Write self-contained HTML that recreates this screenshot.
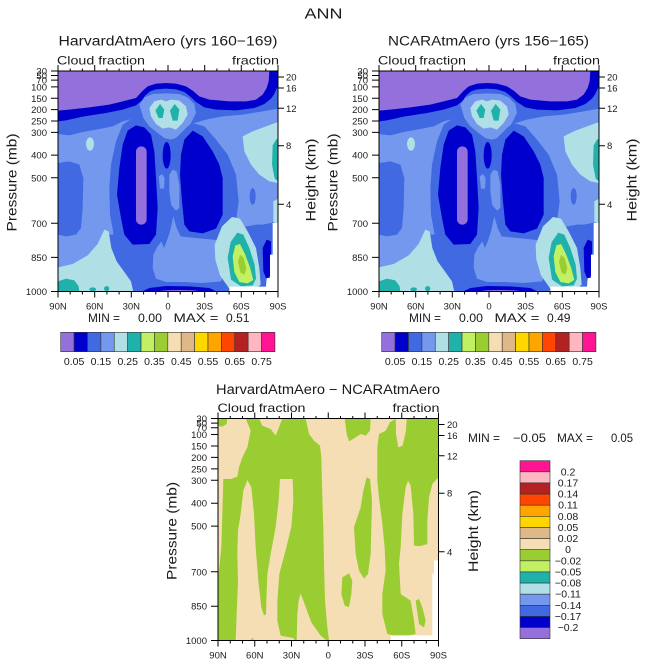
<!DOCTYPE html>
<html><head><meta charset="utf-8"><style>
html,body{margin:0;padding:0;background:#fff;}
svg{display:block;}
text{font-family:"Liberation Sans",sans-serif;fill:#1a1a1a;}
</style></head><body>
<svg width="647" height="664" viewBox="0 0 647 664" xmlns="http://www.w3.org/2000/svg">
<defs>
<clipPath id="ct"><rect x="6" y="9" width="660" height="662"/></clipPath>
<clipPath id="cb"><rect x="12" y="13.5" width="661.5" height="666"/></clipPath>
<g id="tp">
<g clip-path="url(#ct)" transform="translate(56,68) scale(0.333333)">
<rect x="0" y="0" width="680" height="680" fill="#4169E1"/>
<polygon fill="#7398EE" points="6,198 40,202 80,192 130,183 170,175 200,160 240,150 300,180 350,200 400,170 450,155 500,145 560,140 620,130 666,122 666,672 6,672"/>
<polygon fill="#4169E1" points="200,170 230,150 260,150 285,170 305,195 330,212 355,212 380,185 410,165 445,175 480,215 515,260 540,320 548,400 540,460 520,500 480,515 400,505 372,500 340,510 310,540 280,550 240,555 200,545 175,510 162,440 160,360 165,290 180,220"/>
<polygon fill="#4169E1" points="6,285 40,280 70,290 82,330 80,420 75,480 60,500 30,505 6,500"/>
<polygon fill="#4169E1" points="160,500 545,480 600,470 620,470 645,465 666,460 666,672 160,672"/>
<ellipse fill="#4169E1" cx="590" cy="385" rx="9" ry="25"/>
<polygon fill="#7398EE" points="290,600 292,560 302,540 316,520 324,540 332,520 342,490 352,445 362,480 374,505 400,508 440,512 480,516 505,522 515,545 512,585 505,620 495,640 440,645 380,642 330,642 300,632"/>
<polygon fill="#7398EE" points="340,320 350,305 362,310 370,350 370,420 360,428 346,412 340,370"/>
<polygon fill="#7398EE" points="308,325 318,318 326,330 324,362 312,362"/>
<polygon fill="#7398EE" points="250,110 265,88 290,78 330,76 370,78 395,88 415,108 420,135 405,165 380,190 360,210 345,215 325,210 305,195 280,175 262,150"/>
<polygon fill="#B0E0E6" points="280,120 295,100 315,95 330,100 345,95 370,98 390,115 395,140 380,165 360,185 340,178 320,182 300,168 285,145"/>
<ellipse fill="#B0E0E6" cx="102" cy="228" rx="12" ry="20"/>
<polygon fill="#B0E0E6" points="560,205 590,190 630,175 666,162 666,345 640,340 610,320 585,290 565,250"/>
<polygon fill="#B0E0E6" points="6,598 50,588 95,562 125,528 145,485 158,490 166,540 182,580 205,612 225,640 232,672 6,672"/>
<polygon fill="#B0E0E6" points="476,530 498,475 528,447 552,452 576,492 600,540 610,600 614,650 600,662 520,662 492,622 478,575"/>
<polygon fill="#B0E0E6" points="652,400 666,392 666,470 652,462"/>
<polygon fill="#20B2AA" points="298,128 312,108 325,125 320,150 308,150"/>
<polygon fill="#20B2AA" points="342,128 356,108 370,125 365,158 350,158"/>
<polygon fill="#20B2AA" points="650,232 660,215 666,212 666,340 656,332 648,290"/>
<polygon fill="#20B2AA" points="6,640 30,632 55,637 68,655 70,672 6,672"/>
<ellipse fill="#20B2AA" cx="110" cy="664" rx="10" ry="6"/>
<ellipse fill="#20B2AA" cx="152" cy="662" rx="8" ry="8"/>
<polygon fill="#20B2AA" points="515,570 524,522 544,494 562,500 580,540 596,590 600,632 590,652 555,655 525,635"/>
<polygon fill="#C1F062" points="530,565 538,532 552,528 566,556 582,598 592,636 575,646 550,642 535,612"/>
<polygon fill="#9ACD32" points="546,582 552,560 563,570 571,600 566,620 554,615"/>
<polygon fill="#0000CD" points="6,9 666,9 666,55 662,62 655,78 645,92 625,108 595,120 540,127 480,125 445,118 420,102 402,85 385,72 360,64 330,62 300,64 282,70 268,82 258,97 240,112 200,125 150,135 80,146 30,157 6,160"/>
<polygon fill="#0000CD" points="240,172 215,188 200,230 190,300 183,380 195,450 205,500 230,530 280,528 300,500 305,420 300,330 295,250 285,200 265,178"/>
<polygon fill="#0000CD" points="410,188 385,215 375,260 372,320 378,400 385,470 400,490 440,496 480,482 500,440 500,330 490,290 470,250 440,205"/>
<ellipse fill="#0000CD" cx="332" cy="262" rx="12" ry="40"/>
<polygon fill="#0000CD" points="255,672 280,660 330,654 400,655 460,660 485,672"/>
<polygon fill="#0000CD" points="620,540 632,515 645,520 645,620 632,635 622,610"/>
<polygon fill="#9370DB" points="6,9 640,9 638,40 632,60 620,80 600,95 570,100 520,100 460,95 430,85 410,68 390,55 360,47 330,45 300,47 275,55 258,70 240,90 200,100 160,110 100,118 40,125 6,128"/>
<rect fill="#9370DB" x="240" y="235" width="32" height="235" rx="16"/>
<ellipse fill="#9370DB" cx="370" cy="670" rx="60" ry="4"/>
<polygon fill="#fff" points="520,656 630,656 632,630 642,630 642,560 650,560 650,465 666,465 666,672 520,672"/>
</g>
<rect x="58" y="71" width="220" height="220.5" fill="none" stroke="#000" stroke-width="1"/>
<path stroke="#000" stroke-width="1" fill="none" d="M58 71V65M70.2 71V68.5M82.4 71V68.5M94.7 71V65M106.9 71V68.5M119.1 71V68.5M131.3 71V65M143.6 71V68.5M155.8 71V68.5M168 71V65M180.2 71V68.5M192.4 71V68.5M204.7 71V65M216.9 71V68.5M229.1 71V68.5M241.3 71V65M253.6 71V68.5M265.8 71V68.5M278 71V65
M58 291.5V297.5M70.2 291.5V294.5M82.4 291.5V294.5M94.7 291.5V297.5M106.9 291.5V294.5M119.1 291.5V294.5M131.3 291.5V297.5M143.6 291.5V294.5M155.8 291.5V294.5M168 291.5V297.5M180.2 291.5V294.5M192.4 291.5V294.5M204.7 291.5V297.5M216.9 291.5V294.5M229.1 291.5V294.5M241.3 291.5V297.5M253.6 291.5V294.5M265.8 291.5V294.5M278 291.5V297.5
M51 71H58M51 75.5H58M51 80.1H58M51 86.9H58M51 98.3H58M51 109.6H58M51 121H58M51 132.4H58M51 155.1H58M51 177.8H58M51 223.3H58M51 257.4H58M51 291.5H58
M278 77H284M278 88H284M278 108.3H284M278 145.7H284M278 204.3H284"/>
</g>
<g id="cbh" stroke="#333" stroke-width="0.6">
<rect x="60.7" y="332.3" width="13.39" height="19.4" fill="#9370DB"/>
<rect x="74.09" y="332.3" width="13.39" height="19.4" fill="#0000CD"/>
<rect x="87.48" y="332.3" width="13.39" height="19.4" fill="#4169E1"/>
<rect x="100.87" y="332.3" width="13.39" height="19.4" fill="#7398EE"/>
<rect x="114.26" y="332.3" width="13.39" height="19.4" fill="#B0E0E6"/>
<rect x="127.65" y="332.3" width="13.39" height="19.4" fill="#20B2AA"/>
<rect x="141.04" y="332.3" width="13.39" height="19.4" fill="#C1F062"/>
<rect x="154.43" y="332.3" width="13.39" height="19.4" fill="#9ACD32"/>
<rect x="167.82" y="332.3" width="13.39" height="19.4" fill="#F5DEB3"/>
<rect x="181.21" y="332.3" width="13.39" height="19.4" fill="#DEB887"/>
<rect x="194.6" y="332.3" width="13.39" height="19.4" fill="#FFD700"/>
<rect x="207.99" y="332.3" width="13.39" height="19.4" fill="#FFA500"/>
<rect x="221.38" y="332.3" width="13.39" height="19.4" fill="#FF4500"/>
<rect x="234.77" y="332.3" width="13.39" height="19.4" fill="#B22222"/>
<rect x="248.16" y="332.3" width="13.39" height="19.4" fill="#FFB6C1"/>
<rect x="261.55" y="332.3" width="13.39" height="19.4" fill="#FF1493"/>
</g>
</defs>

<use href="#tp"/>
<use href="#tp" x="321"/>
<use href="#cbh"/>
<use href="#cbh" x="321"/>

<!-- Title -->
<text x="323.5" y="18.5" font-size="15" text-anchor="middle" textLength="38" lengthAdjust="spacingAndGlyphs">ANN</text>

<!-- Left panel texts -->
<text x="168" y="45.5" font-size="13.5" text-anchor="middle" textLength="219" lengthAdjust="spacingAndGlyphs">HarvardAtmAero (yrs 160−169)</text>
<text x="57" y="64.3" font-size="12" textLength="88" lengthAdjust="spacingAndGlyphs">Cloud fraction</text>
<text x="279" y="64.3" font-size="12" text-anchor="end" textLength="47" lengthAdjust="spacingAndGlyphs">fraction</text>
<g font-size="9.5" text-anchor="end">
<text x="47" y="74.5">30</text><text x="47" y="79">50</text><text x="47" y="83.6">70</text>
<text x="47" y="90.4">100</text><text x="47" y="101.8">150</text><text x="47" y="113.1">200</text>
<text x="47" y="124.5">250</text><text x="47" y="135.9">300</text><text x="47" y="158.6">400</text>
<text x="47" y="181.3">500</text><text x="47" y="226.8">700</text><text x="47" y="260.9">850</text>
<text x="47" y="295">1000</text>
</g>
<g font-size="9.5">
<text x="286" y="80.5">20</text><text x="286" y="91.5">16</text><text x="286" y="111.8">12</text>
<text x="286" y="149.2">8</text><text x="286" y="207.8">4</text>
</g>
<g font-size="9.5" text-anchor="middle">
<text x="58" y="309.5">90N</text><text x="94.7" y="309.5">60N</text><text x="131.3" y="309.5">30N</text>
<text x="168" y="309.5">0</text><text x="204.7" y="309.5">30S</text><text x="241.3" y="309.5">60S</text>
<text x="278" y="309.5">90S</text>
</g>
<text transform="translate(16.5,182.5) rotate(-90)" font-size="14" text-anchor="middle" textLength="98" lengthAdjust="spacingAndGlyphs">Pressure (mb)</text>
<text transform="translate(315.5,180) rotate(-90)" font-size="14" text-anchor="middle" textLength="83" lengthAdjust="spacingAndGlyphs">Height (km)</text>
<g font-size="12">
<text x="88" y="322" textLength="32" lengthAdjust="spacingAndGlyphs">MIN =</text>
<text x="138" y="322" textLength="24" lengthAdjust="spacingAndGlyphs">0.00</text>
<text x="173.5" y="322" textLength="45" lengthAdjust="spacingAndGlyphs">MAX =</text>
<text x="226" y="322" textLength="23.5" lengthAdjust="spacingAndGlyphs">0.51</text>
</g>
<g font-size="10.5" text-anchor="middle">
<text x="74.1" y="365">0.05</text><text x="100.9" y="365">0.15</text><text x="127.7" y="365">0.25</text>
<text x="154.4" y="365">0.35</text><text x="181.2" y="365">0.45</text><text x="208" y="365">0.55</text>
<text x="234.8" y="365">0.65</text><text x="261.6" y="365">0.75</text>
</g>

<!-- Right panel texts -->
<text x="488.5" y="45.5" font-size="13.5" text-anchor="middle" textLength="201" lengthAdjust="spacingAndGlyphs">NCARAtmAero (yrs 156−165)</text>
<text x="378" y="64.3" font-size="12" textLength="88" lengthAdjust="spacingAndGlyphs">Cloud fraction</text>
<text x="600" y="64.3" font-size="12" text-anchor="end" textLength="47" lengthAdjust="spacingAndGlyphs">fraction</text>
<g font-size="9.5" text-anchor="end">
<text x="368" y="74.5">30</text><text x="368" y="79">50</text><text x="368" y="83.6">70</text>
<text x="368" y="90.4">100</text><text x="368" y="101.8">150</text><text x="368" y="113.1">200</text>
<text x="368" y="124.5">250</text><text x="368" y="135.9">300</text><text x="368" y="158.6">400</text>
<text x="368" y="181.3">500</text><text x="368" y="226.8">700</text><text x="368" y="260.9">850</text>
<text x="368" y="295">1000</text>
</g>
<g font-size="9.5">
<text x="607" y="80.5">20</text><text x="607" y="91.5">16</text><text x="607" y="111.8">12</text>
<text x="607" y="149.2">8</text><text x="607" y="207.8">4</text>
</g>
<g font-size="9.5" text-anchor="middle">
<text x="379" y="309.5">90N</text><text x="415.7" y="309.5">60N</text><text x="452.3" y="309.5">30N</text>
<text x="489" y="309.5">0</text><text x="525.7" y="309.5">30S</text><text x="562.3" y="309.5">60S</text>
<text x="599" y="309.5">90S</text>
</g>
<text transform="translate(337.5,182.5) rotate(-90)" font-size="14" text-anchor="middle" textLength="98" lengthAdjust="spacingAndGlyphs">Pressure (mb)</text>
<text transform="translate(636.5,180) rotate(-90)" font-size="14" text-anchor="middle" textLength="83" lengthAdjust="spacingAndGlyphs">Height (km)</text>
<g font-size="12">
<text x="409" y="322" textLength="32" lengthAdjust="spacingAndGlyphs">MIN =</text>
<text x="459" y="322" textLength="24" lengthAdjust="spacingAndGlyphs">0.00</text>
<text x="494.5" y="322" textLength="45" lengthAdjust="spacingAndGlyphs">MAX =</text>
<text x="547" y="322" textLength="23.5" lengthAdjust="spacingAndGlyphs">0.49</text>
</g>
<g font-size="10.5" text-anchor="middle">
<text x="395.1" y="365">0.05</text><text x="421.9" y="365">0.15</text><text x="448.7" y="365">0.25</text>
<text x="475.4" y="365">0.35</text><text x="502.2" y="365">0.45</text><text x="529" y="365">0.55</text>
<text x="555.8" y="365">0.65</text><text x="582.6" y="365">0.75</text>
</g>

<!-- Bottom panel -->
<g clip-path="url(#cb)" transform="translate(214,414) scale(0.333333)">
<rect x="0" y="0" width="690" height="690" fill="#F5DEB3"/>
<polygon fill="#9ACD32" points="12,13 40,13 38,30 25,38 12,36"/>
<polygon fill="#9ACD32" points="95,13 135,13 145,35 170,45 185,65 195,40 205,13 275,13 285,60 300,80 318,95 322,130 325,250 328,345 330,450 333,560 340,640 345,680 12,680 12,480 15,470 22,400 25,300 28,195 50,195 70,188 75,160 85,130 100,100 110,50"/>
<polygon fill="#F5DEB3" points="65,680 68,600 72,500 70,420 72,350 80,300 88,230 100,198 112,220 120,300 125,400 133,500 142,580 150,605 156,600 157,560 160,480 170,420 185,339 194,260 198,195 236,195 238,260 232,339 212,420 196,480 190,560 190,620 200,665 238,672 243,680"/>
<polygon fill="#F5DEB3" points="248,680 250,600 254,560 260,539 270,565 292,625 320,665 338,680"/>
<polygon fill="#9ACD32" points="392,13 470,13 468,50 455,65 440,60 425,70 405,82 398,60"/>
<polygon fill="#9ACD32" points="458,190 468,195 474,260 472,339 470,420 462,480 450,494 435,470 425,420 420,339 440,280 448,230"/>
<polygon fill="#9ACD32" points="385,490 405,478 415,500 412,540 405,579 392,575 382,540"/>
<polygon fill="#9ACD32" points="490,100 495,60 515,50 528,25 545,13 673,13 673,190 655,210 645,250 640,320 640,390 620,396 600,395 598,300 590,215 582,200 575,220 565,300 560,400 555,450 560,540 590,560 600,620 605,660 560,670 520,660 505,600 505,540 515,470 512,400 505,330 495,250 490,200"/>
<polygon fill="#F5DEB3" points="545,13 578,13 576,50 566,95 553,100 546,60"/>
<polygon fill="#9ACD32" points="605,560 615,555 625,580 635,620 630,640 615,630"/>
<ellipse fill="#DEB887" cx="115" cy="676" rx="5" ry="4"/>
<polygon fill="#fff" points="530,664 655,664 655,479 660,479 660,439 674,439 674,680 530,680"/>
</g>
<rect x="218" y="418.5" width="220.5" height="222" fill="none" stroke="#000" stroke-width="1"/>
<path stroke="#000" stroke-width="1" fill="none" d="M218 418.5V412.5M230.25 418.5V416M242.5 418.5V416M254.75 418.5V412.5M267 418.5V416M279.25 418.5V416M291.5 418.5V412.5M303.75 418.5V416M316 418.5V416M328.25 418.5V412.5M340.5 418.5V416M352.75 418.5V416M365 418.5V412.5M377.25 418.5V416M389.5 418.5V416M401.75 418.5V412.5M414 418.5V416M426.25 418.5V416M438.5 418.5V412.5
M218 640.5V646.5M230.25 640.5V643.5M242.5 640.5V643.5M254.75 640.5V646.5M267 640.5V643.5M279.25 640.5V643.5M291.5 640.5V646.5M303.75 640.5V643.5M316 640.5V643.5M328.25 640.5V646.5M340.5 640.5V643.5M352.75 640.5V643.5M365 640.5V646.5M377.25 640.5V643.5M389.5 640.5V643.5M401.75 640.5V646.5M414 640.5V643.5M426.25 640.5V643.5M438.5 640.5V646.5
M211 418.5H218M211 423.1H218M211 427.7H218M211 434.5H218M211 446H218M211 457.4H218M211 468.9H218M211 480.3H218M211 503.2H218M211 526.1H218M211 571.8H218M211 606.2H218M211 640.5H218
M438.5 424.5H444.5M438.5 435.5H444.5M438.5 455.8H444.5M438.5 493.2H444.5M438.5 551.8H444.5"/>
<text x="328" y="394" font-size="13.5" text-anchor="middle" textLength="224" lengthAdjust="spacingAndGlyphs">HarvardAtmAero − NCARAtmAero</text>
<text x="217.5" y="412" font-size="12" textLength="88" lengthAdjust="spacingAndGlyphs">Cloud fraction</text>
<text x="439.5" y="412" font-size="12" text-anchor="end" textLength="47" lengthAdjust="spacingAndGlyphs">fraction</text>
<g font-size="9.5" text-anchor="end">
<text x="207" y="422">30</text><text x="207" y="426.6">50</text><text x="207" y="431.2">70</text>
<text x="207" y="438">100</text><text x="207" y="449.5">150</text><text x="207" y="460.9">200</text>
<text x="207" y="472.4">250</text><text x="207" y="483.8">300</text><text x="207" y="506.7">400</text>
<text x="207" y="529.6">500</text><text x="207" y="575.3">700</text><text x="207" y="609.7">850</text>
<text x="207" y="644">1000</text>
</g>
<g font-size="9.5">
<text x="447" y="428">20</text><text x="447" y="439">16</text><text x="447" y="459.3">12</text>
<text x="447" y="496.7">8</text><text x="447" y="555.3">4</text>
</g>
<g font-size="9.5" text-anchor="middle">
<text x="218" y="658.5">90N</text><text x="254.75" y="658.5">60N</text><text x="291.5" y="658.5">30N</text>
<text x="328.25" y="658.5">0</text><text x="365" y="658.5">30S</text><text x="401.75" y="658.5">60S</text>
<text x="438.5" y="658.5">90S</text>
</g>
<text transform="translate(176.5,531) rotate(-90)" font-size="14" text-anchor="middle" textLength="98" lengthAdjust="spacingAndGlyphs">Pressure (mb)</text>
<text transform="translate(478,531) rotate(-90)" font-size="14" text-anchor="middle" textLength="82" lengthAdjust="spacingAndGlyphs">Height (km)</text>
<g font-size="11.5">
<text x="468" y="442" textLength="32" lengthAdjust="spacingAndGlyphs">MIN =</text>
<text x="513" y="442" textLength="33" lengthAdjust="spacingAndGlyphs">−0.05</text>
<text x="557" y="442" textLength="36" lengthAdjust="spacingAndGlyphs">MAX =</text>
<text x="611" y="442" textLength="22" lengthAdjust="spacingAndGlyphs">0.05</text>
</g>
<g stroke="#333" stroke-width="0.6">
<rect x="520" y="460.7" width="30" height="11.125" fill="#FF1493"/>
<rect x="520" y="471.825" width="30" height="11.125" fill="#FFB6C1"/>
<rect x="520" y="482.95" width="30" height="11.125" fill="#B22222"/>
<rect x="520" y="494.075" width="30" height="11.125" fill="#FF4500"/>
<rect x="520" y="505.2" width="30" height="11.125" fill="#FFA500"/>
<rect x="520" y="516.325" width="30" height="11.125" fill="#FFD700"/>
<rect x="520" y="527.45" width="30" height="11.125" fill="#DEB887"/>
<rect x="520" y="538.575" width="30" height="11.125" fill="#F5DEB3"/>
<rect x="520" y="549.7" width="30" height="11.125" fill="#9ACD32"/>
<rect x="520" y="560.825" width="30" height="11.125" fill="#C1F062"/>
<rect x="520" y="571.95" width="30" height="11.125" fill="#20B2AA"/>
<rect x="520" y="583.075" width="30" height="11.125" fill="#B0E0E6"/>
<rect x="520" y="594.2" width="30" height="11.125" fill="#7398EE"/>
<rect x="520" y="605.325" width="30" height="11.125" fill="#4169E1"/>
<rect x="520" y="616.45" width="30" height="11.125" fill="#0000CD"/>
<rect x="520" y="627.575" width="30" height="11.125" fill="#9370DB"/>
</g>
<g font-size="10.5" text-anchor="middle">
<text x="568" y="475.3">0.2</text><text x="568" y="486.5">0.17</text><text x="568" y="497.6">0.14</text>
<text x="568" y="508.7">0.11</text><text x="568" y="519.8">0.08</text><text x="568" y="531">0.05</text>
<text x="568" y="542.1">0.02</text><text x="568" y="553.2">0</text><text x="568" y="564.3">−0.02</text>
<text x="568" y="575.5">−0.05</text><text x="568" y="586.6">−0.08</text><text x="568" y="597.7">−0.11</text>
<text x="568" y="608.8">−0.14</text><text x="568" y="620">−0.17</text><text x="568" y="631.1">−0.2</text>
</g>
</svg>
</body></html>
